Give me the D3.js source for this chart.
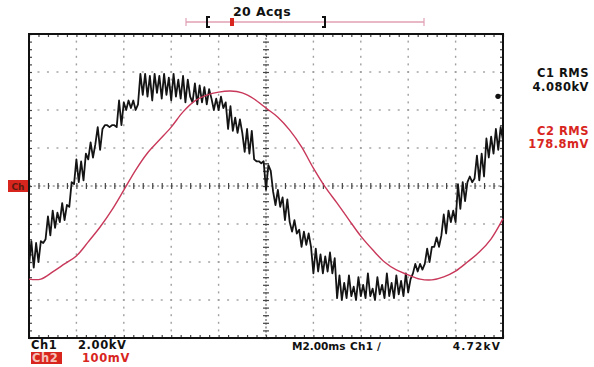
<!DOCTYPE html>
<html>
<head>
<meta charset="utf-8">
<script src="https://cdn.jsdelivr.net/npm/d3@7/dist/d3.min.js"></script>
<style>
  html, body { margin: 0; padding: 0; background: #fff; }
  svg text { font-family: "DejaVu Sans", "Liberation Sans", sans-serif; font-weight: bold; }
</style>
</head>
<body>
<div id="chart"></div>
<script>
// scope settings
const timePerDiv = 2;          // ms / div
const ch1PerDiv = 2;           // kV / div
const ch2PerDiv = 100;         // mV / div
const sampleStep = 0.1;        // ms between ch1 samples

// Ch1 (kV), one value every 0.1 ms from 0 to 20 ms
const ch1Values = [
  -4.2, -2.9, -4.3, -3.0, -4.0, -2.9, -3.0, -2.8, -1.6, -2.6,
  -1.3, -2.2, -1.4, -1.9, -0.9, -1.8, -1.0, -1.1, 0.2, 0.1,
  1.4, 0.2, 1.3, 0.3, 1.7, 1.4, 2.3, 1.5, 2.2, 3.1,
  1.9, 3.0, 3.2, 3.2, 3.1, 3.2, 3.2, 3.1, 4.5, 3.2,
  4.4, 4.0, 4.5, 4.1, 4.5, 4.0, 4.3, 5.9, 4.8, 5.9,
  4.7, 5.8, 4.5, 5.9, 4.9, 5.8, 4.6, 5.9, 4.8, 5.7,
  4.5, 5.9, 4.7, 5.6, 4.6, 5.8, 4.4, 5.6, 4.7, 4.4,
  5.4, 4.3, 5.3, 4.4, 5.2, 4.3, 5.1, 4.6, 4.0, 4.6,
  4.0, 4.7, 4.1, 4.4, 3.0, 4.2, 2.9, 3.6, 2.8, 3.5,
  2.8, 1.8, 3.0, 1.7, 2.9, 1.4, 1.3, 1.3, 1.2, 1.3,
  -0.2, 1.1, 0.8, -0.3, -1.0, -0.2, -1.1, -0.6, -1.8, -0.7,
  -1.9, -2.4, -1.8, -2.5, -2.3, -3.2, -2.4, -3.1, -2.5, -3.2,
  -4.6, -3.3, -4.5, -3.6, -4.6, -3.7, -4.5, -3.5, -4.6, -3.8,
  -5.9, -4.7, -6.0, -5.1, -5.9, -4.7, -5.8, -5.3, -6.0, -4.8,
  -5.8, -5.2, -5.9, -4.6, -5.8, -5.4, -6.0, -4.8, -5.7, -5.2,
  -5.9, -4.6, -5.8, -5.1, -5.9, -4.7, -5.7, -5.0, -5.8, -4.6,
  -5.6, -4.9, -4.6, -4.1, -4.5, -4.1, -4.4, -4.1, -3.3, -4.0,
  -3.2, -3.2, -2.7, -3.2, -2.6, -1.5, -2.5, -1.3, -1.9, -1.3,
  -1.9, 0.1, -1.2, 0.2, -0.8, 0.2, 0.5, 0.2, 0.4, 1.6,
  0.3, 1.7, 0.5, 2.5, 1.5, 2.6, 1.7, 3.0, 1.9, 3.1,
  2.4
];

// Ch2 (mV), read every 0.5 ms
const ch2Times = d3.range(0, 20.001, 0.5);
const ch2Values = [
  -245, -245, -226, -205, -184, -147, -108, -63, -11, 42,
  87, 121, 155, 195, 224, 239, 247, 250, 245, 229,
  205, 181, 147, 103, 47, -3, -45, -89, -132, -168,
  -200, -221, -234, -245, -247, -239, -224, -200, -174, -139,
  -86
];

// readouts
const acqLabel = "20 Acqs";
const rmsLabels = [["C1 RMS", "4.080kV"], ["C2 RMS", "178.8mV"]];
const ch1Scale = "2.00kV";
const ch2Scale = "100mV";
const timebase = "M2.00ms";
const trigSource = "Ch1";
const trigLevel = 4.72;        // kV

const width = 594, height = 367;
const plot = { left: 29, right: 503, top: 34, bottom: 338 };

const svg = d3.select("#chart").append("svg")
  .attr("width", width)
  .attr("height", height);

const xScale = d3.scaleLinear().domain([0, 10 * timePerDiv]).range([plot.left, plot.right]);
const y1Scale = d3.scaleLinear().domain([-4 * ch1PerDiv, 4 * ch1PerDiv]).range([plot.bottom, plot.top]);
const y2Scale = d3.scaleLinear().domain([-4 * ch2PerDiv, 4 * ch2PerDiv]).range([plot.bottom, plot.top]);

const xMajor = d3.range(0, 20.001, timePerDiv);
const xMinor = d3.range(0, 20.001, timePerDiv / 5);
const yMajor = d3.range(-8, 8.001, ch1PerDiv);
const yMinor = d3.range(-8, 8.001, ch1PerDiv / 5);

// dotted graticule
let grid = svg.append("g").attr("class", "grid");
xMajor.slice(1, -1).forEach(function(t) {
  if (t === 10) return;
  grid.selectAll(null)
    .data(yMinor.slice(1, -1))
    .enter().append("rect")
    .attr("x", xScale(t) - 0.7)
    .attr("y", d => y1Scale(d) - 1)
    .attr("width", 1.4)
    .attr("height", 2)
    .attr("fill", "#a0a0a0");
});
yMajor.slice(1, -1).forEach(function(v) {
  if (v === 0) return;
  grid.selectAll(null)
    .data(xMinor.slice(1, -1))
    .enter().append("rect")
    .attr("x", d => xScale(d) - 1)
    .attr("y", y1Scale(v) - 0.7)
    .attr("width", 2)
    .attr("height", 1.4)
    .attr("fill", "#a0a0a0");
});

// centre cross with ticks on both sides
let cross = svg.append("g").attr("class", "cross");
cross.append("line")
  .attr("x1", plot.left).attr("x2", plot.right)
  .attr("y1", y1Scale(0)).attr("y2", y1Scale(0))
  .attr("stroke", "#666").attr("stroke-width", 1.2)
  .attr("stroke-dasharray", "2,2.74");
cross.append("line")
  .attr("x1", xScale(10)).attr("x2", xScale(10))
  .attr("y1", plot.top).attr("y2", plot.bottom)
  .attr("stroke", "#666").attr("stroke-width", 1.2)
  .attr("stroke-dasharray", "2,1.8");

function tickAxis(axis, tx, ty) {
  let g = svg.append("g")
    .attr("transform", `translate(${tx},${ty})`)
    .call(axis);
  g.select(".domain").remove();
  g.selectAll(".tick line").attr("stroke", "#444").attr("stroke-width", 1.2);
  g.selectAll(".tick text").remove();
  return g;
}
tickAxis(d3.axisBottom(xScale).tickValues(xMinor).tickSize(3).tickSizeOuter(0), 0, y1Scale(0));
tickAxis(d3.axisTop(xScale).tickValues(xMinor).tickSize(3).tickSizeOuter(0), 0, y1Scale(0));
tickAxis(d3.axisLeft(y1Scale).tickValues(yMinor).tickSize(3).tickSizeOuter(0), xScale(10), 0);
tickAxis(d3.axisRight(y1Scale).tickValues(yMinor).tickSize(3).tickSizeOuter(0), xScale(10), 0);

// ticks along the frame, pointing in
tickAxis(d3.axisBottom(xScale).tickValues(xMinor).tickSize(3), 0, plot.top);
tickAxis(d3.axisTop(xScale).tickValues(xMinor).tickSize(3), 0, plot.bottom);
tickAxis(d3.axisRight(y1Scale).tickValues(yMinor).tickSize(3), plot.left, 0);
tickAxis(d3.axisLeft(y1Scale).tickValues(yMinor).tickSize(3), plot.right, 0);

// frame
svg.append("rect")
  .attr("x", plot.left).attr("y", plot.top)
  .attr("width", plot.right - plot.left)
  .attr("height", plot.bottom - plot.top)
  .attr("fill", "none")
  .attr("stroke", "#111")
  .attr("stroke-width", 2);

// traces
const ch1Line = d3.line()
  .x((d, i) => xScale(i * sampleStep))
  .y(d => y1Scale(d));

const ch2Line = d3.line()
  .x((d, i) => xScale(ch2Times[i]))
  .y(d => y2Scale(d))
  .curve(d3.curveCatmullRom);

svg.append("path")
  .datum(ch1Values)
  .attr("d", ch1Line)
  .attr("fill", "none")
  .attr("stroke", "#141414")
  .attr("stroke-width", 1.8)
  .attr("stroke-linejoin", "round");

svg.append("path")
  .datum(ch2Values)
  .attr("d", ch2Line)
  .attr("fill", "none")
  .attr("stroke", "#c8385a")
  .attr("stroke-width", 1.4);

// trigger level marker
svg.append("path")
  .attr("d", d3.symbol(d3.symbolCircle, 22)())
  .attr("transform", `translate(${plot.right - 5},${y1Scale(trigLevel)})`)
  .attr("fill", "#111");

// ground marker on the left
svg.append("rect")
  .attr("x", 8).attr("y", y1Scale(0) - 6)
  .attr("width", 20).attr("height", 12)
  .attr("fill", "#d8261e");
svg.append("text")
  .attr("x", 18).attr("y", y1Scale(0) + 3.5)
  .attr("text-anchor", "middle")
  .attr("font-size", 9)
  .attr("fill", "#5a1a10")
  .text("Ch");

// record bar on top
let bar = svg.append("g");
bar.append("line")
  .attr("x1", 186).attr("x2", 424).attr("y1", 22).attr("y2", 22)
  .attr("stroke", "#e0a0b4").attr("stroke-width", 1.5);
[186, 424].forEach(function(x) {
  bar.append("line")
    .attr("x1", x).attr("x2", x).attr("y1", 18).attr("y2", 26)
    .attr("stroke", "#e0a0b4").attr("stroke-width", 1.2);
});
bar.append("path")
  .attr("d", "M210,17 L207,17 L207,27 L210,27")
  .attr("fill", "none").attr("stroke", "#111").attr("stroke-width", 2);
bar.append("path")
  .attr("d", "M322,17 L325,17 L325,27 L322,27")
  .attr("fill", "none").attr("stroke", "#111").attr("stroke-width", 2);
bar.append("rect")
  .attr("x", 230).attr("y", 18).attr("width", 4).attr("height", 8)
  .attr("fill", "#d8261e");

svg.append("text")
  .attr("x", 262).attr("y", 16)
  .attr("text-anchor", "middle")
  .attr("font-size", 12.5)
  .attr("letter-spacing", 0.4)
  .attr("fill", "#111")
  .text(acqLabel);

// RMS readouts on the right
const rmsColors = ["#111", "#d8261e"];
const rmsY = [[77, 91], [135, 148]];
rmsLabels.forEach(function(lines, k) {
  lines.forEach(function(s, j) {
    svg.append("text")
      .attr("x", 589).attr("y", rmsY[k][j])
      .attr("text-anchor", "end")
      .attr("font-size", 11.5)
      .attr("letter-spacing", 0.5)
      .attr("fill", rmsColors[k])
      .text(s);
  });
});

// bottom readouts
function readout(x, y, s, color, size, spacing, anchor) {
  return svg.append("text")
    .attr("x", x).attr("y", y)
    .attr("text-anchor", anchor || "start")
    .attr("font-size", size)
    .attr("letter-spacing", spacing)
    .attr("fill", color)
    .text(s);
}
readout(31, 349, "Ch1", "#111", 11.5, 0.6);
readout(78, 349, ch1Scale, "#111", 11.5, 0.6);
svg.append("rect").attr("x", 31).attr("y", 352).attr("width", 31).attr("height", 12)
  .attr("fill", "#d8261e");
readout(32, 362, "Ch2", "#f4c0b8", 11.5, 0.6);
readout(82, 362, ch2Scale, "#d8261e", 11.5, 0.6);

readout(292, 350, timebase, "#111", 10.5, 0);
readout(350, 350, trigSource, "#111", 10.5, 0.3);
readout(377, 350, "\u2215", "#111", 10.5, 0);
readout(501, 350, trigLevel.toFixed(2) + "kV", "#111", 10.5, 1.2, "end");
</script>
</body>
</html>
